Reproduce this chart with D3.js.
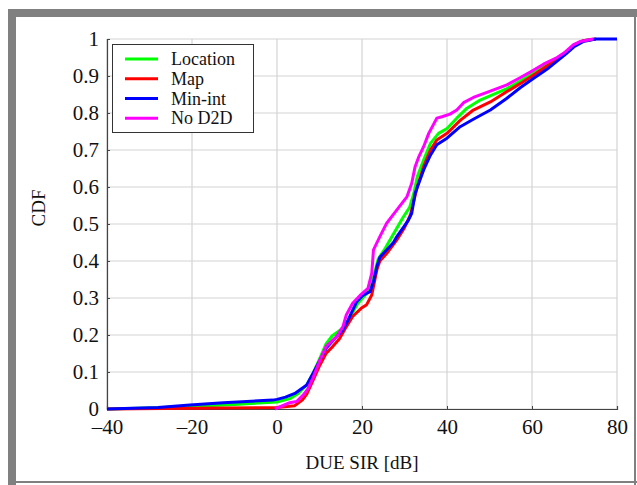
<!DOCTYPE html>
<html>
<head>
<meta charset="utf-8">
<script src="https://cdn.jsdelivr.net/npm/d3@7"></script>
<style>
  body { margin: 0; background: #fff; }
  text { font-family: "Liberation Serif", "DejaVu Serif", serif; fill: #111; }
</style>
</head>
<body>
<div id="chart"></div>
<script>
"use strict";

const locationCdf = [
  [-40, 0], [-30, 0.003], [-20, 0.007], [-10, 0.012], [0, 0.019], [3, 0.028],
  [5, 0.042], [7, 0.065], [8.5, 0.097], [10, 0.135], [11.5, 0.175], [13, 0.198],
  [14.5, 0.21], [16, 0.225], [17.5, 0.255], [19, 0.285], [20.5, 0.305], [22, 0.325],
  [23, 0.37], [23.8, 0.405], [25.5, 0.435], [27.5, 0.475], [29.5, 0.515], [31.2, 0.545],
  [32.2, 0.583], [33, 0.628], [34.5, 0.673], [36.1, 0.718], [38, 0.745], [40, 0.758],
  [42.3, 0.786], [44.7, 0.813], [47.8, 0.835], [54.1, 0.866], [57.3, 0.887], [60.4, 0.909],
  [63.5, 0.932], [66, 0.948], [68, 0.965], [70, 0.985], [72, 0.995], [75, 1]
];
const mapCdf = [
  [-40, 0], [-20, 0.002], [0, 0.004], [4.2, 0.009], [6, 0.025], [7, 0.04],
  [8.5, 0.078], [10.1, 0.119], [11.6, 0.151], [13.2, 0.17], [14.7, 0.19], [16.3, 0.222],
  [17.8, 0.25], [19.8, 0.272], [21.1, 0.282], [22.3, 0.308], [23.5, 0.376], [24.2, 0.4],
  [25.8, 0.42], [28.2, 0.457], [30, 0.49], [31.4, 0.525], [33, 0.6], [34.5, 0.655],
  [36.1, 0.7], [37.6, 0.727], [40, 0.745], [43.1, 0.78], [46.2, 0.808], [50.2, 0.83],
  [54.1, 0.858], [57.3, 0.88], [60.4, 0.903], [63.5, 0.927], [66, 0.945], [68, 0.963],
  [70, 0.983], [72, 0.995], [75, 1]
];
const minIntCdf = [
  [-40, 0], [-28, 0.004], [-20.5, 0.011], [-12.6, 0.017], [-1, 0.024], [0, 0.026],
  [2, 0.032], [4.2, 0.042], [7, 0.065], [8.5, 0.097], [10.1, 0.132], [11.6, 0.165],
  [14, 0.195], [15.5, 0.213], [16.7, 0.24], [18.75, 0.29], [20.3, 0.308], [21.9, 0.317],
  [22.7, 0.344], [23.5, 0.385], [24.2, 0.41], [27.4, 0.45], [28.2, 0.466], [30.9, 0.51],
  [31.7, 0.529], [32.5, 0.583], [34.5, 0.646], [36.1, 0.686], [37.6, 0.714], [40, 0.732],
  [43.1, 0.763], [46.2, 0.783], [50.2, 0.808], [54.1, 0.84], [57.3, 0.869], [60.4, 0.894],
  [63.5, 0.918], [65.9, 0.94], [68, 0.96], [70, 0.98], [72, 0.993], [75, 1], [80, 1]
];
const noD2DCdf = [
  [-0.5, 0], [3, 0.017], [4.6, 0.02], [6.2, 0.038], [7.3, 0.055], [8.5, 0.085],
  [10.1, 0.132], [11.6, 0.17], [14, 0.195], [15.5, 0.222], [16.3, 0.254], [17.8, 0.286],
  [19.8, 0.31], [21.4, 0.326], [22.3, 0.367], [22.7, 0.43], [24.2, 0.466], [25.8, 0.502],
  [28.2, 0.538], [30.6, 0.574], [31.7, 0.61], [32.5, 0.655], [33.3, 0.68], [34.5, 0.709],
  [35.7, 0.745], [37.6, 0.786], [38.8, 0.79], [40.7, 0.797], [42.3, 0.808], [43.9, 0.828],
  [46.2, 0.842], [49.4, 0.856], [54.1, 0.876], [57.3, 0.896], [60.4, 0.916], [62.7, 0.932],
  [65.9, 0.95], [67.5, 0.962], [69.7, 0.984], [71.3, 0.993], [74.4, 1]
];

const seriesNames = ["Location", "Map", "Min-int", "No D2D"];
const seriesColors = ["#00ff00", "#ff0000", "#0000ff", "#ff00ff"];
const seriesData = [locationCdf, mapCdf, minIntCdf, noD2DCdf];

const xTicks = [-40, -20, 0, 20, 40, 60, 80];
const xTickLabels = ["\u201340", "\u201320", "0", "20", "40", "60", "80"];
const yTicks = [0, 0.1, 0.2, 0.3, 0.4, 0.5, 0.6, 0.7, 0.8, 0.9, 1];
const yTickLabels = ["0", "0.1", "0.2", "0.3", "0.4", "0.5", "0.6", "0.7", "0.8", "0.9", "1"];

// === SVG setup ===
const W = 637, H = 485;
const plot = { left: 107, right: 617, top: 39, bottom: 409 };

const svg = d3.select("#chart").append("svg")
  .attr("width", W)
  .attr("height", H);

// window-like gray frame
svg.append("rect").attr("x", 8).attr("y", 9).attr("width", W - 8).attr("height", 8).attr("fill", "#808080");
svg.append("rect").attr("x", 8).attr("y", 9).attr("width", 8).attr("height", H - 9).attr("fill", "#808080");
svg.append("rect").attr("x", 634).attr("y", 9).attr("width", 2).attr("height", H - 9).attr("fill", "#808080");
svg.append("rect").attr("x", 8).attr("y", 481).attr("width", W - 8).attr("height", 2).attr("fill", "#808080");

// === Scales ===
const x = d3.scaleLinear().domain([-40, 80]).range([plot.left, plot.right]);
const y = d3.scaleLinear().domain([0, 1]).range([plot.bottom, plot.top]);

// === Grid ===
const grid = svg.append("g").attr("stroke", "#d4d4d4").attr("stroke-width", 1.2);
xTicks.forEach(t => {
  grid.append("line")
    .attr("x1", x(t)).attr("x2", x(t))
    .attr("y1", plot.top).attr("y2", plot.bottom);
});
yTicks.forEach(t => {
  grid.append("line")
    .attr("x1", plot.left).attr("x2", plot.right)
    .attr("y1", y(t)).attr("y2", y(t));
});

// === Axes (ticks point inward) ===
const xAxis = svg.append("g")
  .attr("transform", `translate(0,${plot.bottom})`)
  .call(d3.axisBottom(x).tickValues(xTicks).tickSize(-3).tickPadding(10)
    .tickFormat((d, i) => xTickLabels[i]));

const yAxis = svg.append("g")
  .attr("transform", `translate(${plot.left},0)`)
  .call(d3.axisLeft(y).tickValues(yTicks).tickSize(-3).tickPadding(8)
    .tickFormat((d, i) => yTickLabels[i]));

[xAxis, yAxis].forEach(g => {
  g.select(".domain").attr("stroke", "#444").attr("stroke-width", 1.2);
  g.selectAll(".tick line").attr("stroke", "#444");
  g.selectAll(".tick text")
    .attr("font-family", "Liberation Serif, serif")
    .attr("font-size", 21)
    .attr("fill", "#111");
});

// === Curves ===
const line = d3.line().x(d => x(d[0])).y(d => y(d[1]));
seriesData.forEach((data, i) => {
  svg.append("path")
    .datum(data)
    .attr("d", line)
    .attr("fill", "none")
    .attr("stroke", seriesColors[i])
    .attr("stroke-width", 3)
    .attr("stroke-linejoin", "round");
});

// === Axis labels ===
svg.append("text")
  .attr("x", (plot.left + plot.right) / 2)
  .attr("y", 469)
  .attr("text-anchor", "middle")
  .attr("font-size", 19)
  .text("DUE SIR [dB]");

svg.append("text")
  .attr("transform", "translate(45,208) rotate(-90)")
  .attr("text-anchor", "middle")
  .attr("font-size", 19)
  .text("CDF");

// === Legend ===
const legend = svg.append("g");
legend.append("rect")
  .attr("x", 112.5).attr("y", 44.5)
  .attr("width", 141).attr("height", 88)
  .attr("fill", "#fff")
  .attr("stroke", "#333");

seriesNames.forEach((name, i) => {
  const ly = 59 + i * 19.75;
  legend.append("line")
    .attr("x1", 125).attr("x2", 158)
    .attr("y1", ly).attr("y2", ly)
    .attr("stroke", seriesColors[i])
    .attr("stroke-width", 3);
  legend.append("text")
    .attr("x", 171)
    .attr("y", ly + 6)
    .attr("font-size", 18)
    .text(name);
});
</script>
</body>
</html>
